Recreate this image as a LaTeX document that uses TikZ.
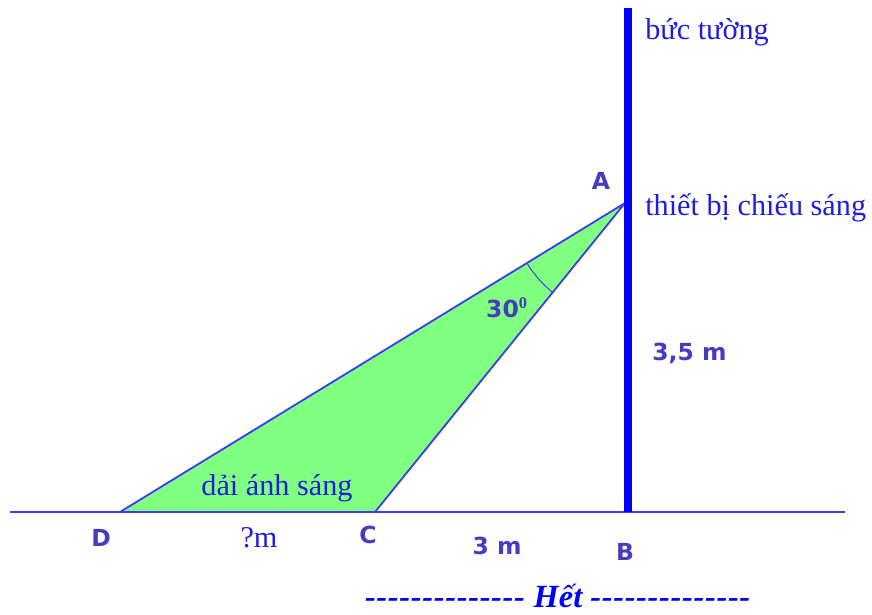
\documentclass[tikz,border=0pt]{standalone}
\usepackage{fontspec}
\setmainfont{Liberation Serif}
\newfontfamily\lblfont{DejaVu Sans}
\usepackage{xcolor}
\usetikzlibrary{calc}

\definecolor{wallblue}{RGB}{0,0,255}
\definecolor{lineblue}{RGB}{60,60,240}
\definecolor{txtblue}{RGB}{30,30,220}
\definecolor{ptblue}{RGB}{70,60,190}
\definecolor{lightgreen}{RGB}{128,255,128}

\newcommand\hy{-\kern0.5pt}
\newcommand\hyrow{\hy\hy\hy\hy\hy\hy\hy\hy\hy\hy\hy\hy\hy\hy}

\begin{document}
\begin{tikzpicture}[
  x=0.025cm, y=-0.025cm,
  words/.style={font=\fontsize{21.5}{23}\selectfont, text=txtblue, inner sep=0pt},
  point/.style={font=\lblfont\bfseries\fontsize{16.7}{18}\selectfont, text=ptblue, inner sep=0pt},
  ground/.style={draw=lineblue, line width=1.4pt}
]
  \useasboundingbox (0,0) rectangle (872,614);

  % Points
  \coordinate (A) at (625,203);
  \coordinate (B) at (628,512);
  \coordinate (C) at (375,512);
  \coordinate (D) at (120,512);
  \coordinate (top) at (628,8);
  \coordinate (gl) at (10,512);
  \coordinate (gr) at (845,512);

  % Light strip
  \filldraw[fill=lightgreen, draw=lineblue, line width=1.3pt, line join=round] (D) -- (A) -- (C) -- cycle;
  \begin{scope}
    \clip (D) -- (A) -- (C) -- cycle;
    \draw[lineblue, line width=0.7pt] (A) circle (115);
  \end{scope}

  % Ground and wall
  \draw[ground] (gl) -- (gr);
  \draw[wallblue, line width=5pt] (top) -- (B);

  % Labels
  \node[words, anchor=west] (wall) at (645,32) {bức tường};
  \node[words, anchor=west] (lamp) at (645,208) {thiết bị chiếu sáng};
  \node[words] (strip) at (277,488) {dải ánh sáng};
  \node[words] (dist) at (259,538) {?m};
  \node[point] (lA) at (601,181) {A};
  \node[point] (lB) at (625,552) {B};
  \node[point] (lC) at (368,535) {C};
  \node[point] (lD) at (101,538) {D};
  \node[point] (ang) at (507,308) {30$^{\mathbf{0}}$};
  \node[point, anchor=west] (hgt) at (652,353) {3,5 m};
  \node[point] (base) at (497,546) {3 m};
  \node[font=\fontsize{23}{25}\selectfont\bfseries\itshape, text=wallblue, inner sep=0pt] (end) at (558,596) {\hyrow{} Hết \hyrow};
\end{tikzpicture}
\end{document}
